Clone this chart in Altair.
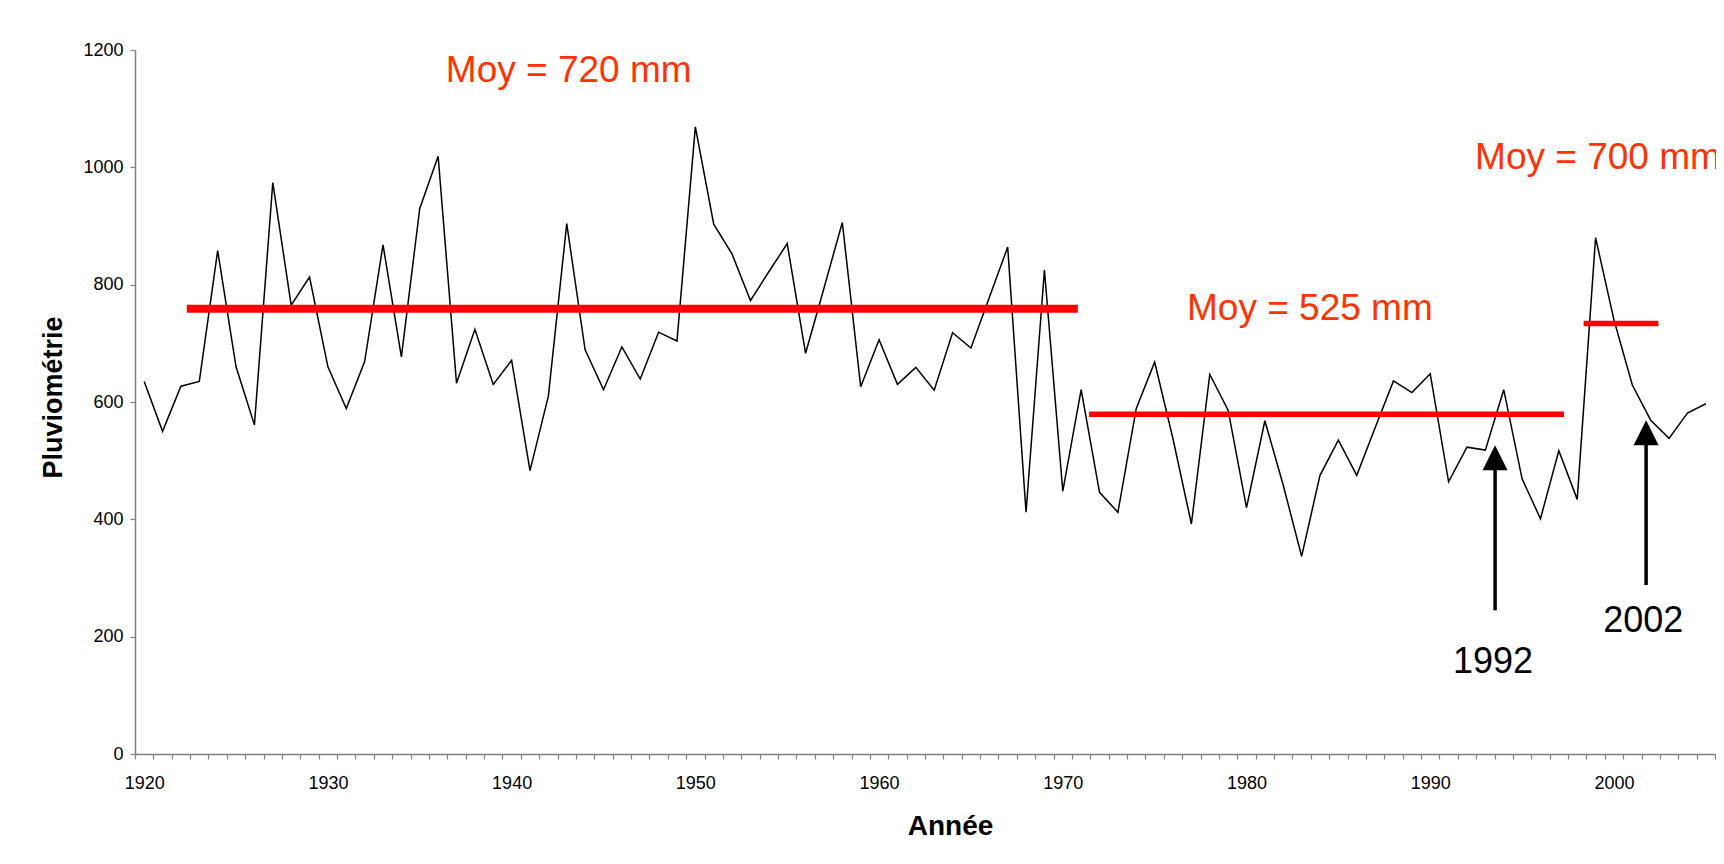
import altair as alt
import pandas as pd

FONT = "Liberation Sans"

# ---- data ----
years = list(range(1920, 2006))
rain = [635, 550, 627, 635, 858, 660, 561, 974, 765, 813,
        660, 589, 669, 868, 677, 930, 1019, 632, 724, 630,
        671, 483, 610, 904, 689, 621, 694, 639, 719, 704,
        1069, 903, 852, 773, 822, 870, 683, 794, 906, 626,
        706, 630, 659, 620, 718, 692, 778, 864, 412, 825,
        448, 621, 446, 412, 589, 668, 537, 392, 647, 586,
        420, 568, 458, 337, 475, 535, 475, 556, 636, 616,
        648, 464, 523, 518, 621, 469, 401, 517, 434, 880,
        740, 629, 569, 538, 581, 597]

# mean segments
seg_start = [1922.32, 1971.43, 1998.35]
seg_end = [1970.82, 1997.28, 2002.42]
seg_level = [759, 579, 734]
seg_width = [8, 5.5, 5.5]

# mean annotations
mean_text = ["Moy = 720 mm", "Moy = 525 mm", "Moy = 700 mm"]
mean_text_x = [1936.42, 1976.76, 1992.44]
mean_text_y = [1146, 740, 997]

# arrows
arrow_label = ["1992", "2002"]
arrow_x = [1993.53, 2001.75]
arrow_bottom = [245, 288]
arrow_top = [490, 532]
arrow_head = [505, 547.5]
arrow_label_x = [1993.42, 2001.6]
arrow_label_y = [137.5, 208.4]

# axis ticks / labels
x_label_values = list(range(1920, 2001, 10))
x_tick_values = [1919.5 + i for i in range(len(years) + 1)]
y_values = [0, 200, 400, 600, 800, 1000, 1200]

# ---- tables ----
df = pd.DataFrame({"year": years, "rain": rain})
seg = pd.DataFrame({"x": seg_start, "x2": seg_end, "y": seg_level, "w": seg_width})
txt = pd.DataFrame({"x": mean_text_x, "y": mean_text_y, "t": mean_text})
arr = pd.DataFrame({"x": arrow_x, "y0": arrow_bottom, "y1": arrow_top, "yh": arrow_head,
                    "lx": arrow_label_x, "ly": arrow_label_y, "t": arrow_label})

xs = alt.Scale(domain=[1919.5, 2005.5], nice=False, zero=False)
ys = alt.Scale(domain=[0, 1200], nice=False, zero=True)

tick_axis = alt.Axis(values=x_tick_values, labels=False, tickSize=5, tickColor="#808080",
                     tickWidth=1.2, domainColor="#808080", domainWidth=1.5, grid=False,
                     title=None, orient="bottom")
label_axis = alt.Axis(values=x_label_values, ticks=False, tickSize=0, domain=False, grid=False,
                      labelFont=FONT, labelFontSize=18, labelColor="black",
                      labelBaseline="alphabetic", labelPadding=34, labelFlush=False,
                      labelOverlap=False, format="d",
                      title="Année", titleFont=FONT, titleFontSize=28, titleFontWeight="bold",
                      titleColor="black", titleX=815, titleY=80, titleBaseline="alphabetic",
                      titleAlign="center", orient="bottom")


def y_axis():
    return alt.Axis(values=y_values, tickSize=5, tickColor="#808080", tickWidth=1.2,
                    domainColor="#808080", domainWidth=1.5, grid=False,
                    labelFont=FONT, labelFontSize=18, labelColor="black", labelPadding=7,
                    labelFlush=False, format="d", orient="left",
                    title="Pluviométrie", titleFont=FONT, titleFontSize=27,
                    titleFontWeight="bold", titleColor="black", titleAngle=270,
                    titleX=-82, titleY=347, titleAlign="center", titleBaseline="middle")


line = alt.Chart(df).mark_line(color="black", strokeWidth=1.5).encode(
    x=alt.X("year:Q", scale=xs, axis=tick_axis),
    y=alt.Y("rain:Q", scale=ys, axis=y_axis()),
)

means = alt.Chart(seg).mark_rule(color="#FF0000").encode(
    x=alt.X("x:Q", scale=xs, axis=None),
    x2="x2:Q",
    y=alt.Y("y:Q", scale=ys, axis=y_axis()),
    strokeWidth=alt.StrokeWidth("w:Q", scale=None, legend=None),
)

texts = alt.Chart(txt).mark_text(align="left", baseline="alphabetic", font=FONT,
                                 fontSize=37, color="#FF3300").encode(
    x=alt.X("x:Q", scale=xs, axis=label_axis),
    y=alt.Y("y:Q", scale=ys, axis=y_axis()),
    text="t:N",
)

shafts = alt.Chart(arr).mark_rule(color="black", strokeWidth=3.5).encode(
    x=alt.X("x:Q", scale=xs, axis=None),
    y=alt.Y("y0:Q", scale=ys, axis=y_axis()),
    y2="y1:Q",
)

heads = alt.Chart(arr).mark_point(shape="M-1,1L1,1L0,-1Z", filled=True, size=625,
                                  color="black", opacity=1, strokeWidth=0).encode(
    x=alt.X("x:Q", scale=xs, axis=None),
    y=alt.Y("yh:Q", scale=ys, axis=y_axis()),
)

arrow_texts = alt.Chart(arr).mark_text(align="center", baseline="alphabetic", font=FONT,
                                       fontSize=36, color="black").encode(
    x=alt.X("lx:Q", scale=xs, axis=None),
    y=alt.Y("ly:Q", scale=ys, axis=y_axis()),
    text="t:N",
)

chart = alt.layer(line, means, texts, shafts, heads, arrow_texts).resolve_axis(
    x="independent"
).properties(
    width=1580,
    height=704,
    autosize=alt.AutoSizeParams(type="none"),
    padding={"left": 127, "top": 42, "right": 1, "bottom": 90},
    background="white",
).configure_view(stroke=None)

chart.save("out.html", embed_options={"renderer": "svg", "actions": False})
